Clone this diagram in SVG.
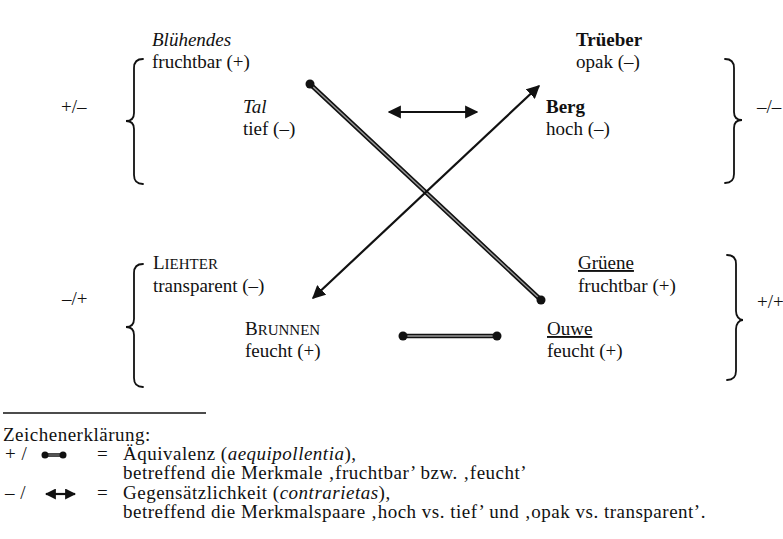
<svg xmlns="http://www.w3.org/2000/svg" width="783" height="539" viewBox="0 0 783 539">
<defs>
<style>
text{font-family:"Liberation Serif","Times New Roman",serif;font-size:19px;fill:#111}
.it{font-style:italic}
.b{font-weight:bold}
.u{text-decoration:underline}
.sc{font-size:15px}
.lg{font-size:19px;letter-spacing:0.5px}
.brace{fill:none;stroke:#111;stroke-width:1.8;stroke-linecap:round}
.eqo{stroke:#111;stroke-width:4.5;stroke-linecap:round}
.eqi{stroke:#999;stroke-width:1.4}
.dot{fill:#111}
.arr{stroke:#111;stroke-width:2.2;fill:none}
</style>
<marker id="ah" viewBox="0 0 10 10" refX="9" refY="5" markerWidth="6" markerHeight="6" markerUnits="strokeWidth" orient="auto-start-reverse">
<path d="M0,0 L10,5 L0,10 z" fill="#111"/>
</marker>
<marker id="ahs" viewBox="0 0 10 10" refX="9" refY="5" markerWidth="5" markerHeight="5" markerUnits="strokeWidth" orient="auto-start-reverse">
<path d="M0,0 L10,5 L0,10 z" fill="#111"/>
</marker>
</defs>
<rect width="783" height="539" fill="#fff"/>

<g id="brace-top-left"><path class="brace" d="M143,59 C137,59 134,62 134,68 L134,113 C134,118 131,121 126,121 C131,121 134,124 134,129 L134,175 C134,181 137,184 143,184"/></g>
<g id="brace-top-right"><path class="brace" d="M725,59 C731,59 734,62 734,68 L734,112 C734,117 737,120 742,120 C737,120 734,123 734,128 L734,174 C734,180 731,183 725,183"/></g>
<g id="brace-bottom-left"><path class="brace" d="M143,264 C137,264 134,267 134,273 L134,319 C134,324 131,327 126,327 C131,327 134,330 134,335 L134,378 C134,384 137,387 143,387"/></g>
<g id="brace-bottom-right"><path class="brace" d="M727,255 C733,255 736,258 736,264 L736,311 C736,316 739,320 743,320 C739,320 736,324 736,329 L736,371 C736,377 733,380 727,380"/></g>

<g id="label-pm"><text x="61" y="113">+/–</text></g>
<g id="label-mm"><text x="757" y="113">–/–</text></g>
<g id="label-mp"><text x="62" y="305">–/+</text></g>
<g id="label-pp"><text x="757" y="308">+/+</text></g>

<g id="node-bluehendes"><text x="152" y="46" class="it">Blühendes</text><text x="152" y="68">fruchtbar (+)</text></g>
<g id="node-tal"><text x="243" y="113" class="it">Tal</text><text x="243" y="135">tief (–)</text></g>
<g id="node-trueeber"><text x="576" y="46" class="b">Trüeber</text><text x="576" y="68">opak (–)</text></g>
<g id="node-berg"><text x="546" y="113" class="b">Berg</text><text x="546" y="135">hoch (–)</text></g>
<g id="node-liehter"><text x="153" y="269">L<tspan class="sc">IEHTER</tspan></text><text x="153" y="292">transparent (–)</text></g>
<g id="node-brunnen"><text x="245" y="335">B<tspan class="sc">RUNNEN</tspan></text><text x="245" y="357">feucht (+)</text></g>
<g id="node-grueene"><text x="578" y="269" class="u">Grüene</text><text x="578" y="292">fruchtbar (+)</text></g>
<g id="node-ouwe"><text x="547" y="335" class="u">Ouwe</text><text x="547" y="357">feucht (+)</text></g>

<g id="connectors">
<line class="eqo" x1="310" y1="84" x2="541" y2="300"/>
<line class="eqi" x1="310" y1="84" x2="541" y2="300"/>
<circle class="dot" cx="310" cy="84" r="4.5"/><circle class="dot" cx="541" cy="300" r="4.5"/>
<line class="eqo" x1="403" y1="336" x2="497" y2="336"/>
<line class="eqi" x1="403" y1="336" x2="497" y2="336"/>
<circle class="dot" cx="403" cy="336" r="4.5"/><circle class="dot" cx="497" cy="336" r="4.5"/>
<line class="arr" x1="389" y1="112" x2="477" y2="112" marker-start="url(#ah)" marker-end="url(#ah)"/>
<line class="arr" x1="313" y1="298" x2="539" y2="86" marker-start="url(#ah)" marker-end="url(#ah)"/>
</g>

<g id="legend">
<line x1="3" y1="413" x2="206" y2="413" stroke="#111" stroke-width="1.5"/>
<text class="lg" x="3" y="441">Zeichenerklärung:</text>
<text class="lg" x="5" y="460">+ /</text>
<line class="eqo" x1="45" y1="455" x2="63" y2="455" style="stroke-width:3.5"/>
<line class="eqi" x1="45" y1="455" x2="63" y2="455" style="stroke-width:1"/>
<circle class="dot" cx="45" cy="455" r="3.5"/><circle class="dot" cx="63" cy="455" r="3.5"/>
<text class="lg" x="97" y="460">=</text>
<text class="lg" x="123" y="460">Äquivalenz (<tspan class="it">aequipollentia</tspan>),</text>
<text class="lg" x="123" y="479">betreffend die Merkmale ‚fruchtbar’ bzw. ‚feucht’</text>
<text class="lg" x="5" y="499">– /</text>
<line class="arr" x1="46" y1="494" x2="75" y2="494" marker-start="url(#ahs)" marker-end="url(#ahs)"/>
<text class="lg" x="97" y="499">=</text>
<text class="lg" x="123" y="499">Gegensätzlichkeit (<tspan class="it">contrarietas</tspan>),</text>
<text class="lg" x="123" y="518">betreffend die Merkmalspaare ‚hoch vs. tief’ und ‚opak vs. transparent’.</text>
</g>
</svg>
